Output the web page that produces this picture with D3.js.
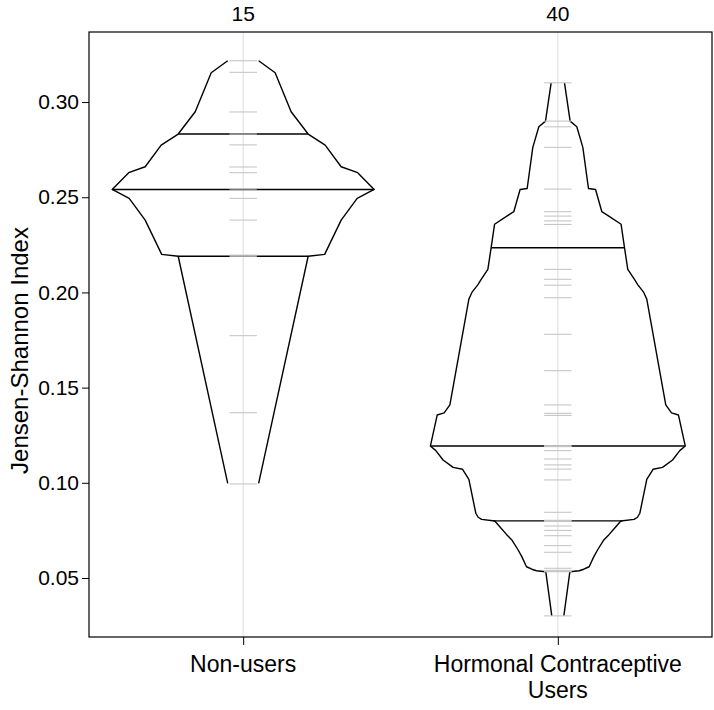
<!DOCTYPE html>
<html>
<head>
<meta charset="utf-8">
<script src="https://cdn.jsdelivr.net/npm/d3@7"></script>
<style>
    body { margin: 0; background: #fff; }
    svg text { font-family: "Liberation Sans", Arial, sans-serif; }
</style>
</head>
<body>
<svg id="chart" width="714" height="710"></svg>
<script>
/*global d3*/
var groups = ['Non-users', 'Hormonal Contraceptive Users'];
var groupLines = [['Non-users'], ['Hormonal Contraceptive', 'Users']];
var yTicks = [0.05, 0.10, 0.15, 0.20, 0.25, 0.30];

// observations (Jensen-Shannon index), one array per group
var nonUsers = [0.3217, 0.3156, 0.2948, 0.2832, 0.2775, 0.2659, 0.2629, 0.2543,
    0.2494, 0.2380, 0.2196, 0.2190, 0.1773, 0.1368, 0.0994];
var hcUsers = [0.3101, 0.2900, 0.2870, 0.2762, 0.2543, 0.2424, 0.2401, 0.2376,
    0.2357, 0.2121, 0.2069, 0.2038, 0.1972, 0.1780, 0.1589, 0.1409, 0.1365,
    0.1354, 0.1195, 0.1192, 0.1190, 0.1169, 0.1125, 0.1094, 0.1072, 0.1015,
    0.0845, 0.0803, 0.0801, 0.0797, 0.0773, 0.0750, 0.0722, 0.0670, 0.0635,
    0.0551, 0.0540, 0.0535, 0.0533, 0.0301];

// quartile lines (q3, median, q1)
var nonUsersQuart = [0.2832, 0.2541, 0.2190];
var hcUsersQuart = [0.2235, 0.1193, 0.0800];

// outline: [value, relative half-width]
var nonUsersShape = [[0.3217, 0.118], [0.3154, 0.244], [0.2949, 0.366],
    [0.2832, 0.496], [0.2774, 0.626], [0.2660, 0.748], [0.2629, 0.874],
    [0.2541, 1.000], [0.2494, 0.870], [0.2380, 0.748], [0.2200, 0.622],
    [0.2190, 0.496], [0.0997, 0.118]];
var hcUsersShape = [[0.3101, 0.051], [0.2900, 0.094], [0.2870, 0.145],
    [0.2762, 0.191], [0.2546, 0.234], [0.2541, 0.288], [0.2424, 0.336],
    [0.2401, 0.389], [0.2358, 0.483], [0.2235, 0.509], [0.2121, 0.534],
    [0.2069, 0.585], [0.2040, 0.611], [0.2000, 0.656], [0.1965, 0.679],
    [0.1409, 0.824], [0.1367, 0.868], [0.1356, 0.921], [0.1193, 0.973],
    [0.1169, 0.931], [0.1120, 0.876], [0.1081, 0.799], [0.1071, 0.727],
    [0.1018, 0.679], [0.0840, 0.626], [0.0819, 0.608], [0.0808, 0.582],
    [0.0799, 0.481], [0.0769, 0.443], [0.0729, 0.392], [0.0700, 0.351],
    [0.0647, 0.303], [0.0612, 0.275], [0.0559, 0.239], [0.0546, 0.198],
    [0.0538, 0.163], [0.0533, 0.092], [0.0301, 0.046]];

(function (d3) {
    'use strict';

    var svg = d3.select('#chart'),
        box = {left: 89, right: 712, top: 32, bottom: 637},
        tickFont = 21,
        labelFont = 23,
        series = [
            {name: groups[0], values: nonUsers, quart: nonUsersQuart, shape: nonUsersShape, lines: groupLines[0]},
            {name: groups[1], values: hcUsers, quart: hcUsersQuart, shape: hcUsersShape, lines: groupLines[1]}
        ],
        x = d3.scalePoint().domain(groups).range([box.left, box.right]).padding(0.49),
        y = d3.scaleLinear().domain([0.019, 0.3368]).range([box.bottom, box.top]),
        w = d3.scaleLinear().domain([0, 1]).range([0, 131]),
        tickHalf = 13.7;

    function halfWidthAt(shape, v) {
        var i, a, b;
        for (i = 0; i < shape.length - 1; i += 1) {
            a = shape[i];
            b = shape[i + 1];
            if (v <= a[0] && v >= b[0]) {
                return a[1] + (b[1] - a[1]) * (a[0] - v) / (a[0] - b[0]);
            }
        }
        return 0;
    }

    // y axis
    var yAxis = d3.axisLeft(y).tickValues(yTicks).tickFormat(d3.format('.2f'))
        .tickSize(7).tickSizeOuter(0);
    var gy = svg.append('g').attr('transform', 'translate(' + box.left + ',0)').call(yAxis);
    gy.select('.domain').remove();
    gy.selectAll('line').attr('stroke', '#000');
    gy.selectAll('text').attr('font-size', tickFont).attr('fill', '#000').attr('x', -10);

    // x axis ticks at the bottom
    var gx = svg.append('g').attr('transform', 'translate(0,' + box.bottom + ')')
        .call(d3.axisBottom(x).tickSize(8).tickSizeOuter(0).tickFormat(''));
    gx.select('.domain').remove();
    gx.selectAll('line').attr('stroke', '#000');

    series.forEach(function (s) {
        var cx = x(s.name),
            g = svg.append('g');

        // vertical reference line
        g.append('line')
            .attr('x1', cx).attr('x2', cx)
            .attr('y1', box.top).attr('y2', box.bottom)
            .attr('stroke', '#e3e3e3').attr('stroke-width', 1.2);

        // outline, both sides
        [-1, 1].forEach(function (side) {
            var line = d3.line()
                .x(function (d) { return cx + side * w(d[1]); })
                .y(function (d) { return y(d[0]); });
            g.append('path')
                .datum(s.shape)
                .attr('d', line)
                .attr('fill', 'none')
                .attr('stroke', '#000')
                .attr('stroke-width', 1.4)
                .attr('stroke-linejoin', 'round');
        });

        // quartile lines
        g.selectAll('line.quart')
            .data(s.quart)
            .enter().append('line')
            .attr('class', 'quart')
            .attr('x1', function (d) { return cx - w(halfWidthAt(s.shape, d)); })
            .attr('x2', function (d) { return cx + w(halfWidthAt(s.shape, d)); })
            .attr('y1', function (d) { return y(d); })
            .attr('y2', function (d) { return y(d); })
            .attr('stroke', '#000').attr('stroke-width', 1.4);

        // observations
        g.selectAll('line.obs')
            .data(s.values)
            .enter().append('line')
            .attr('class', 'obs')
            .attr('x1', cx - tickHalf).attr('x2', cx + tickHalf)
            .attr('y1', function (d) { return y(d); })
            .attr('y2', function (d) { return y(d); })
            .attr('stroke', '#c6c6c6').attr('stroke-width', 1.1);

        // count on top
        svg.append('text')
            .attr('x', cx).attr('y', 21)
            .attr('text-anchor', 'middle')
            .attr('font-size', tickFont)
            .text(s.values.length);

        // group label
        svg.append('text')
            .attr('x', cx).attr('y', 672)
            .attr('text-anchor', 'middle')
            .attr('font-size', labelFont)
            .selectAll('tspan')
            .data(s.lines)
            .enter().append('tspan')
            .attr('x', cx)
            .attr('dy', function (d, i) { return i === 0 ? 0 : 26; })
            .text(function (d) { return d; });
    });

    // panel border
    svg.append('rect')
        .attr('x', box.left).attr('y', box.top)
        .attr('width', box.right - box.left).attr('height', box.bottom - box.top)
        .attr('fill', 'none').attr('stroke', '#000').attr('stroke-width', 1.2);

    // y label
    svg.append('text')
        .attr('transform', 'translate(28,' + ((box.top + box.bottom) / 2 + 16) + ') rotate(-90)')
        .attr('text-anchor', 'middle')
        .attr('font-size', 24)
        .text('Jensen-Shannon Index');
}(window.d3));
</script>
</body>
</html>
